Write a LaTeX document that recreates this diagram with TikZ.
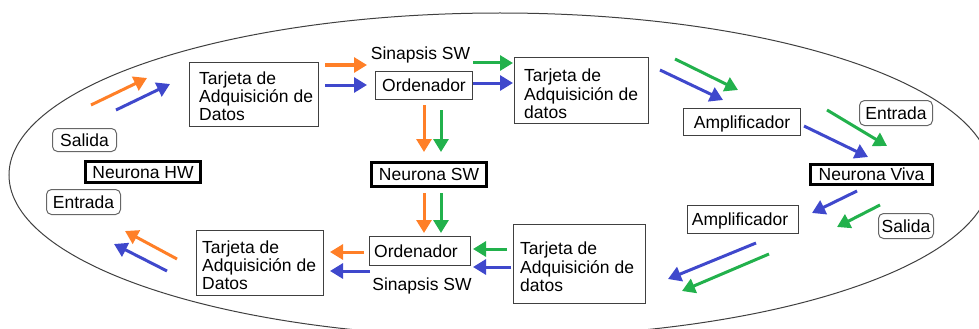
\documentclass[tikz,border=0pt]{standalone}
\usepackage{fontspec}
\setmainfont{Liberation Sans}
\usetikzlibrary{arrows.meta,calc}
\definecolor{aorange}{HTML}{FF7F27}
\definecolor{ablue}{HTML}{3F48CC}
\definecolor{agreen}{HTML}{22B14C}
\begin{document}
\begin{tikzpicture}[x=1pt,y=-1pt,
  every node/.style={font=\fontsize{17.5pt}{18.3pt}\selectfont, inner sep=0pt},
  box/.style={draw=black!75, line width=1.1pt, rectangle, text height=12.6pt, text depth=0pt},
  neuro/.style={draw=black, line width=3pt, rectangle, text height=12.6pt, text depth=0pt},
  tag/.style={draw=black!60, line width=1pt, rounded corners=5pt, rectangle, text height=12.6pt, text depth=0pt},
  txt/.style={align=left, anchor=north west},
  flow/.style={line width=3pt, -{Triangle[length=13pt,width=15pt]}},
]
\useasboundingbox (0,0) rectangle (979,329);
\clip (0,0) rectangle (979,329);
\draw[line width=1pt, black!75] (500,175) ellipse [x radius=491, y radius=162];

% boxes
\node[box, minimum width=129pt, minimum height=64pt] (tA) at (254,94.5) {};
\node[txt] (tAt) at (199,71.5) {Tarjeta de\\Adquisición de\\Datos};
\node[box, minimum width=127pt, minimum height=65pt] (tB) at (260,263) {};
\node[txt] (tBt) at (202,240.5) {Tarjeta de\\Adquisición de\\Datos};
\node[box, minimum width=134pt, minimum height=66pt] (tC) at (581.5,90.5) {};
\node[txt] (tCt) at (524,69) {Tarjeta de\\Adquisición de\\datos};
\node[box, minimum width=132pt, minimum height=79pt] (tD) at (579.5,264) {};
\node[txt] (tDt) at (520,242) {Tarjeta de\\Adquisición de\\datos};

\node[box, minimum width=97pt, minimum height=28pt] (oA) at (424,85.5) {Ordenador};
\node[box, minimum width=101pt, minimum height=29pt] (oB) at (420,251) {};
\node (oBt) at (416,251) [text height=12.6pt, text depth=0pt] {Ordenador};
\node[box, minimum width=117pt, minimum height=27pt] (ampA) at (742,122) {Amplificador};
\node[box, minimum width=111pt, minimum height=28pt] (ampB) at (743,219.5) {};
\node (ampBt) at (740,219.5) [text height=12.6pt, text depth=0pt] {Amplificador};

\node[neuro, minimum width=115pt, minimum height=21pt] (nHW) at (143,172) {Neurona HW};
\node[neuro, minimum width=115pt, minimum height=24pt] (nSW) at (429,174.5) {Neurona SW};
\node[neuro, minimum width=122pt, minimum height=20pt] (nViva) at (871.5,174.5) {Neurona Viva};

\node[tag, minimum width=64pt, minimum height=23pt] (salL) at (84.5,140) {Salida};
\node[tag, minimum width=74pt, minimum height=25pt] (entL) at (83.5,202) {Entrada};
\node[tag, minimum width=73pt, minimum height=25pt] (entR) at (896,113) {Entrada};
\node[tag, minimum width=55pt, minimum height=25pt] (salR) at (906,226) {Salida};

\node (sA) at (420.5,53) [text height=12.6pt, text depth=0pt] {Sinapsis SW};
\node (sB) at (422,284) [text height=12.6pt, text depth=0pt] {Sinapsis SW};

% arrow end points
\coordinate (p1s) at (91,105);  \coordinate (p1e) at (147,78);
\coordinate (p2s) at (116,110); \coordinate (p2e) at (170,84);
\coordinate (p3s) at (177,259); \coordinate (p3e) at (125,231);
\coordinate (p4s) at (167,271); \coordinate (p4e) at (114,244);
\coordinate (p5s) at (325,65);  \coordinate (p5e) at (367,65);
\coordinate (p6s) at (325,85);  \coordinate (p6e) at (367,85);
\coordinate (p7s) at (473,63);  \coordinate (p7e) at (513,63);
\coordinate (p8s) at (473,83);  \coordinate (p8e) at (513,83);
\coordinate (p9s) at (424,105); \coordinate (p9e) at (424,152);
\coordinate (p10s) at (441,110); \coordinate (p10e) at (441,152);
\coordinate (p11s) at (424,193); \coordinate (p11e) at (424,233);
\coordinate (p12s) at (441,193); \coordinate (p12e) at (441,233);
\coordinate (p13s) at (364,252); \coordinate (p13e) at (330,252);
\coordinate (p14s) at (370,271); \coordinate (p14e) at (330,271);
\coordinate (p15s) at (507,249); \coordinate (p15e) at (473,249);
\coordinate (p16s) at (511,267); \coordinate (p16e) at (473,267);
\coordinate (p17s) at (675,59);  \coordinate (p17e) at (738,90);
\coordinate (p18s) at (660,70);  \coordinate (p18e) at (723,100);
\coordinate (p19s) at (827,110); \coordinate (p19e) at (887,146);
\coordinate (p20s) at (804,126); \coordinate (p20e) at (868,157);
\coordinate (p21s) at (857,191); \coordinate (p21e) at (812,213);
\coordinate (p22s) at (880,205); \coordinate (p22e) at (837,227);
\coordinate (p23s) at (756,243); \coordinate (p23e) at (668,279);
\coordinate (p24s) at (769,254); \coordinate (p24e) at (682,291);

\draw[flow, aorange] (p1s) -- (p1e);
\draw[flow, ablue]   (p2s) -- (p2e);
\draw[flow, aorange] (p3s) -- (p3e);
\draw[flow, ablue]   (p4s) -- (p4e);
\draw[flow, aorange] (p5s) -- (p5e);
\draw[flow, ablue]   (p6s) -- (p6e);
\draw[flow, agreen]  (p7s) -- (p7e);
\draw[flow, ablue]   (p8s) -- (p8e);
\draw[flow, aorange] (p9s) -- (p9e);
\draw[flow, agreen]  (p10s) -- (p10e);
\draw[flow, aorange] (p11s) -- (p11e);
\draw[flow, agreen]  (p12s) -- (p12e);
\draw[flow, aorange] (p13s) -- (p13e);
\draw[flow, ablue]   (p14s) -- (p14e);
\draw[flow, agreen]  (p15s) -- (p15e);
\draw[flow, ablue]   (p16s) -- (p16e);
\draw[flow, agreen]  (p17s) -- (p17e);
\draw[flow, ablue]   (p18s) -- (p18e);
\draw[flow, agreen]  (p19s) -- (p19e);
\draw[flow, ablue]   (p20s) -- (p20e);
\draw[flow, ablue]   (p21s) -- (p21e);
\draw[flow, agreen]  (p22s) -- (p22e);
\draw[flow, ablue]   (p23s) -- (p23e);
\draw[flow, agreen]  (p24s) -- (p24e);
\end{tikzpicture}
\end{document}
